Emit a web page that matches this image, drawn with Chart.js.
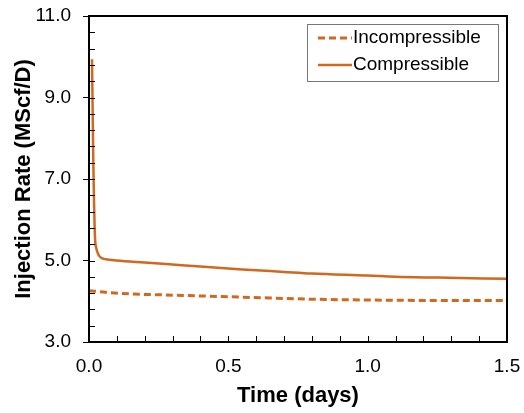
<!DOCTYPE html>
<html>
<head>
<meta charset="utf-8">
<script src="https://cdn.jsdelivr.net/npm/chart.js@4"></script>
<style>
  html, body { margin: 0; padding: 0; background: #fff; }
  #wrap { width: 524px; height: 413px; }
</style>
</head>
<body>
<div id="wrap"><canvas id="myChart" width="524" height="413"></canvas></div>
<script>
// time (days) and injection rate (MScf/D)
var compTime = [0.0108, 0.0154, 0.0215, 0.026, 0.031, 0.036, 0.045, 0.06, 0.1, 0.2, 0.3, 0.4, 0.55, 0.7, 0.8, 1.0, 1.1, 1.25, 1.5];
var compRate = [9.94, 7.47, 5.58, 5.31, 5.19, 5.12, 5.06, 5.03, 5.00, 4.95, 4.90, 4.85, 4.78, 4.72, 4.68, 4.63, 4.60, 4.58, 4.55];
var incompTime = [0, 0.06, 0.15, 0.3, 0.55, 0.8, 1.0, 1.25, 1.5];
var incompRate = [4.26, 4.22, 4.18, 4.15, 4.10, 4.05, 4.03, 4.02, 4.02];
var seriesNames = ['Incompressible', 'Compressible'];

var orange = '#d0691f';

function toPoints(xs, ys) {
	var pts = [];
	for (var i = 0; i < xs.length; i++) {
		pts.push({ x: xs[i], y: ys[i] });
	}
	return pts;
}

// inner ticks, frame and the boxed legend
var framePlugin = {
	id: 'frame',
	afterDraw: function (chart) {
		var ctx = chart.ctx;
		var a = chart.chartArea;
		var xs = chart.scales.x;
		var ys = chart.scales.y;
		ctx.save();
		ctx.strokeStyle = '#000';
		ctx.lineWidth = 1;
		// x ticks every 0.1, pointing up
		for (var k = 1; k < 15; k++) {
			var px = Math.round(xs.getPixelForValue(k / 10)) + 0.5;
			ctx.beginPath();
			ctx.moveTo(px, a.bottom);
			ctx.lineTo(px, a.bottom - 6);
			ctx.stroke();
		}
		// y ticks every 0.4, pointing right
		for (var j = 1; j < 20; j++) {
			var py = Math.round(ys.getPixelForValue(3 + j * 0.4)) + 0.5;
			ctx.beginPath();
			ctx.moveTo(a.left, py);
			ctx.lineTo(a.left + 6, py);
			ctx.stroke();
		}
		// frame
		ctx.lineWidth = 2;
		ctx.strokeRect(a.left, a.top, a.right - a.left, a.bottom - a.top);

		// legend
		var lx = 307, ly = 24, lw = 191, lh = 57;
		ctx.fillStyle = '#fff';
		ctx.fillRect(lx, ly, lw, lh);
		ctx.lineWidth = 1;
		ctx.strokeStyle = '#777';
		ctx.strokeRect(lx + 0.5, ly + 0.5, lw, lh);
		ctx.font = '19px "Liberation Sans", Arial, sans-serif';
		ctx.textBaseline = 'middle';
		ctx.fillStyle = '#000';
		chart.data.datasets.forEach(function (ds, i) {
			var yy = ly + 14 + i * 27;
			ctx.strokeStyle = ds.borderColor;
			ctx.lineWidth = ds.borderWidth;
			ctx.setLineDash(ds.borderDash || []);
			ctx.beginPath();
			ctx.moveTo(318, yy);
			ctx.lineTo(352, yy);
			ctx.stroke();
			ctx.setLineDash([]);
			ctx.fillText(ds.label, 353, yy);
		});
		ctx.restore();
	}
};

var tickFont = { family: '"Liberation Sans", Arial, sans-serif', size: 19 };
var titleFont = { family: '"Liberation Sans", Arial, sans-serif', size: 22, weight: 'bold' };

new Chart(document.getElementById('myChart'), {
	type: 'line',
	data: {
		datasets: [{
			label: seriesNames[0],
			data: toPoints(incompTime, incompRate),
			borderColor: orange,
			borderWidth: 3,
			borderDash: [7, 4],
			pointRadius: 0,
			fill: false,
			cubicInterpolationMode: 'monotone'
		}, {
			label: seriesNames[1],
			data: toPoints(compTime, compRate),
			borderColor: orange,
			borderWidth: 2.5,
			pointRadius: 0,
			fill: false,
			cubicInterpolationMode: 'monotone'
		}]
	},
	options: {
		responsive: false,
		animation: false,
		layout: { padding: { top: 16, right: 17, left: 7, bottom: 4 } },
		plugins: {
			legend: { display: false },
			tooltip: { enabled: false }
		},
		scales: {
			x: {
				type: 'linear',
				min: 0,
				max: 1.5,
				afterFit: function (scale) {
					scale.height = 67;
					scale.paddingLeft = 0;
					scale.paddingRight = 0;
				},
				ticks: {
					stepSize: 0.5,
					color: '#000',
					font: tickFont,
					padding: 13,
					callback: function (v) { return v.toFixed(1); }
				},
				grid: { drawOnChartArea: false, drawTicks: false },
				border: { color: '#000', width: 2 },
				title: { display: true, text: 'Time (days)', color: '#000', font: titleFont, padding: { top: 3, bottom: 0 } }
			},
			y: {
				min: 3,
				max: 11,
				afterFit: function (scale) {
					scale.width = 82;
					scale.paddingTop = 0;
					scale.paddingBottom = 0;
				},
				ticks: {
					stepSize: 2,
					color: '#000',
					font: tickFont,
					padding: 12,
					callback: function (v) { return v.toFixed(1); }
				},
				grid: { drawOnChartArea: false, drawTicks: true, tickLength: 6, color: '#000' },
				border: { color: '#000', width: 2 },
				title: { display: true, text: 'Injection Rate (MScf/D)', color: '#000', font: titleFont, padding: { top: 4, bottom: 0 } }
			}
		}
	},
	plugins: [framePlugin]
});
</script>
</body>
</html>
